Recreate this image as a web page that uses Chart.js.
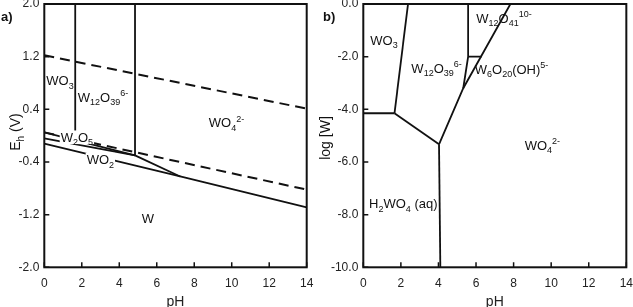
<!DOCTYPE html>
<html>
<head>
<meta charset="utf-8">
<script src="https://cdn.jsdelivr.net/npm/chart.js@4.4.1/dist/chart.umd.min.js"></script>
<style>
  html, body { margin: 0; padding: 0; background: #fff; }
  .panel { position: absolute; top: 0; height: 307px; }
</style>
</head>
<body>
<div class="panel" style="left:0;width:316px"><canvas id="chartA"></canvas></div>
<div class="panel" style="left:316px;width:317px"><canvas id="chartB"></canvas></div>
<script>
const FONT = '"Liberation Sans", Arial, sans-serif';
const INK = '#111';

// axis ticks
const pHTicks = [0, 2, 4, 6, 8, 10, 12, 14];
const ehTicks = [-2.0, -1.2, -0.4, 0.4, 1.2, 2.0];
const logWTicks = [-10, -8, -6, -4, -2, 0];

// panel a: boundaries as [pH, Eh]
const o2Line = [[0, 1.22], [14, 0.41]];
const h2Line = [[0, 0.05], [14, -0.82]];
const wo3W12 = [[1.65, 2.0], [1.65, -0.09]];
const w12Wo4 = [[4.84, 2.0], [4.84, -0.30]];
const w2o5Upper = [[0, 0.05], [4.84, -0.30]];
const w2o5Lower = [[0, -0.04], [4.84, -0.30]];
const wo2Wo4 = [[4.84, -0.30], [7.25, -0.62]];
const wo2W = [[0, -0.12], [7.25, -0.62], [14, -1.09]];

// panel b: boundaries as [pH, log W]
const wo3W12b = [[2.38, 0], [1.66, -4.15]];
const h2wo4Wo3 = [[0, -4.15], [1.66, -4.15]];
const h2wo4W12 = [[1.66, -4.15], [4.03, -5.33]];
const h2wo4Wo4 = [[4.03, -5.33], [4.1, -10]];
const polyWo4 = [[4.03, -5.33], [5.32, -3.2], [7.83, 0]];
const w12W41 = [[5.58, 0], [5.58, -2.0], [5.32, -3.2]];
const w41W6 = [[5.58, -2.0], [6.3, -2.0]];

// region labels: text, pH, value
const labelsA = [
  { t: 'WO_3', x: 0.84, y: 0.84 },
  { t: 'W_{12}O_{39}^{6-}', x: 3.13, y: 0.585 },
  { t: 'WO_4^{2-}', x: 9.72, y: 0.2 },
  { t: 'W_2O_5', x: 1.74, y: -0.02, bg: true },
  { t: 'WO_2', x: 2.99, y: -0.36, bg: true },
  { t: 'W', x: 5.53, y: -1.25 }
];
const labelsB = [
  { t: 'WO_3', x: 1.1, y: -1.37 },
  { t: 'W_{12}O_{39}^{6-}', x: 3.9, y: -2.44 },
  { t: 'W_{12}O_{41}^{10-}', x: 7.49, y: -0.54 },
  { t: 'W_6O_{20}(OH)^{5-}', x: 7.89, y: -2.47 },
  { t: 'WO_4^{2-}', x: 9.53, y: -5.36 },
  { t: 'H_2WO_4 (aq)', x: 2.13, y: -7.57 }
];

// 'W_{12}O_{39}^{6-}' -> [{s:'W',k:0},{s:'12',k:-1},...]
function parseChem(str) {
  const out = [];
  let i = 0;
  while (i < str.length) {
    const c = str[i];
    if (c === '_' || c === '^') {
      const k = c === '_' ? -1 : 1;
      let s;
      if (str[i + 1] === '{') { const j = str.indexOf('}', i); s = str.slice(i + 2, j); i = j + 1; }
      else { s = str[i + 1]; i += 2; }
      out.push({ s, k });
    } else {
      let j = i;
      while (j < str.length && str[j] !== '_' && str[j] !== '^') j++;
      out.push({ s: str.slice(i, j), k: 0 });
      i = j;
    }
  }
  return out;
}

function drawChem(ctx, str, cx, cy, size, bg) {
  const parts = parseChem(str);
  const small = Math.round(size * 0.7);
  const fontOf = k => `${k ? small : size}px ${FONT}`;
  let w = 0;
  parts.forEach(p => { ctx.font = fontOf(p.k); p.w = ctx.measureText(p.s).width; w += p.w; });
  let x = cx - w / 2;
  const base = cy + size * 0.36;
  if (bg) {
    ctx.fillStyle = '#fff';
    ctx.fillRect(x - 1, cy - size * 0.5, w + 2, size * 1.05);
  }
  ctx.fillStyle = INK;
  ctx.textAlign = 'left';
  ctx.textBaseline = 'alphabetic';
  parts.forEach(p => {
    ctx.font = fontOf(p.k);
    const dy = p.k < 0 ? size * 0.27 : p.k > 0 ? -size * 0.42 : 0;
    ctx.fillText(p.s, x, base + dy);
    x += p.w;
  });
}

const decor = {
  id: 'decor',
  afterDatasetsDraw(chart, args, opts) {
    const { ctx, chartArea: a, scales: { x, y } } = chart;
    ctx.save();
    opts.labels.forEach(l => drawChem(ctx, l.t, x.getPixelForValue(l.x), y.getPixelForValue(l.y), 13, l.bg));
    ctx.strokeStyle = INK;
    ctx.lineWidth = 2;
    ctx.strokeRect(a.left, a.top, a.width, a.height);
    ctx.lineWidth = 1.5;
    ctx.beginPath();
    x.ticks.forEach(t => { const p = x.getPixelForValue(t.value); ctx.moveTo(p, a.bottom); ctx.lineTo(p, a.bottom - 5); });
    y.ticks.forEach(t => { const p = y.getPixelForValue(t.value); ctx.moveTo(a.left, p); ctx.lineTo(a.left + 5, p); });
    ctx.stroke();
    // y title
    ctx.save();
    ctx.translate(opts.titleX, opts.titleY);
    ctx.rotate(-Math.PI / 2);
    drawChem(ctx, opts.title, 0, 0, 14, false);
    ctx.restore();
    // panel tag
    ctx.font = `bold 13px ${FONT}`;
    ctx.fillStyle = INK;
    ctx.textBaseline = 'middle';
    ctx.textAlign = 'left';
    ctx.fillText(opts.tag, opts.tagX, 17);
    ctx.restore();
  }
};

const seg = (pts, dashed) => ({
  data: pts.map(([x, y]) => ({ x, y })),
  showLine: true, fill: false, pointRadius: 0,
  borderColor: INK, borderWidth: dashed ? 2 : 1.8, borderDash: dashed ? [10, 6] : []
});

// invisible tick marks just push the labels away from the axis
const hiddenGrid = len => ({ display: true, drawOnChartArea: false, drawTicks: true, tickLength: len, tickColor: 'rgba(0,0,0,0)' });

function build(id, sets, yMin, yMax, yTicks, yWidth, padRight, decorOpts) {
  return new Chart(document.getElementById(id), {
    type: 'scatter',
    data: { datasets: sets },
    options: {
      responsive: true, maintainAspectRatio: false, animation: false,
      layout: { padding: { left: 0, right: padRight, top: 4, bottom: 0 } },
      plugins: { legend: { display: false }, tooltip: { enabled: false }, decor: decorOpts },
      scales: {
        x: {
          type: 'linear', min: 0, max: 14,
          afterBuildTicks: s => { s.ticks = pHTicks.map(v => ({ value: v })); },
          afterFit: s => { s.height = 39.7; },
          grid: hiddenGrid(9), border: { display: false },
          ticks: { padding: 0, color: '#222', font: { family: FONT, size: 12 } },
          title: { display: true, text: 'pH', color: '#222', font: { family: FONT, size: 14, lineHeight: 0.75 }, padding: { top: 0, bottom: 0 } }
        },
        y: {
          type: 'linear', min: yMin, max: yMax,
          afterBuildTicks: s => { s.ticks = yTicks.map(v => ({ value: v })); },
          afterFit: s => { s.width = yWidth; },
          grid: hiddenGrid(5), border: { display: false },
          ticks: { padding: 0, color: '#222', font: { family: FONT, size: 12, lineHeight: 0.6 }, callback: v => v.toFixed(1) }
        }
      }
    },
    plugins: [decor]
  });
}

build('chartA', [
  seg(o2Line, true), seg(h2Line, true),
  seg(wo3W12), seg(w12Wo4), seg(w2o5Upper), seg(w2o5Lower), seg(wo2Wo4), seg(wo2W)
], -2, 2, ehTicks, 44.3, 9.3,
  { labels: labelsA, title: 'E_h (V)', titleX: 15, titleY: 132, tag: 'a)', tagX: 1 });

build('chartB', [
  seg(wo3W12b), seg(h2wo4Wo3), seg(h2wo4W12), seg(h2wo4Wo4), seg(polyWo4), seg(w12W41), seg(w41W6)
], -10, 0, logWTicks, 47.3, 6.3,
  { labels: labelsB, title: 'log [W]', titleX: 9, titleY: 138, tag: 'b)', tagX: 7 });
</script>
</body>
</html>
